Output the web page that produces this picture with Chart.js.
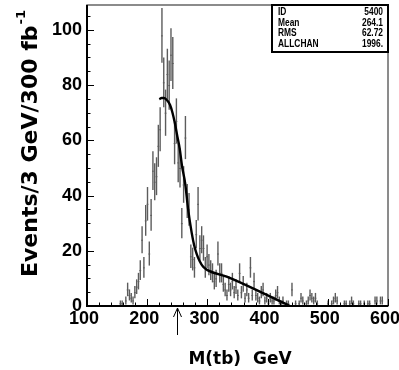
<!DOCTYPE html>
<html><head><meta charset="utf-8">
<script src="https://cdn.jsdelivr.net/npm/chart.js@4/dist/chart.umd.min.js"></script>
<style>html,body{margin:0;padding:0;background:#fff;}canvas{display:block;}</style>
</head><body>
<canvas id="c" width="399" height="370"></canvas>
<script>
// ---- data ----
const binLow = 100, binWidth = 3;           // histogram: 3 GeV bins starting at 100 GeV
const counts = [
  0,0,0,0,0,0,0,0,0,0, 0,0,0,0,0,0,0,0,1,1,      // 100-160
  0,2,6,4,3,2,5,7,9,13, 24,14,31,37,19,33,49,45,47,58, // 160-220
  64,98,81,70,84,80,91,88,59,67, 52,50,30,44,61,38,35,18,17,14, // 220-280
  26,37,21,24,21,14,18,15,13,12, 9,10,19,12,12,8,6,4,8,6,      // 280-340
  9,5,7,4,12,5,8,3,6,3, 14,4,9,4,3,2,5,6,2,3,                  // 340-400
  1,3,2,2,4,5,2,1,2,0, 1,1,0,6,0,1,0,1,3,2,                    // 400-460
  0,1,2,4,3,2,3,1,0,0, 0,0,0,1,0,1,2,3,2,0,                    // 460-520
  0,0,1,1,0,1,2,1,0,0, 1,1,0,1,0,1,1,0,0,2,                    // 520-580
  2,0,2,2,0,0,0                                                // 580-601
];
const fitMass  = [220, 224, 228, 233, 238, 242, 246, 250, 254, 258, 263, 268, 274, 278, 282, 287, 293, 300, 332, 387, 437];
const fitValue = [74.9,75.3,75.3,74.5,72.8,70.0,66.2,61.5,57.0,50.5,44.5,35.0,26.4,22.0,19.0,16.3,14.2,13.0,10.6,5.2,0];
const xTicks = [100, 200, 300, 400, 500, 600];
const yTicks = [0, 20, 40, 60, 80, 100];
const statLabels = ['ID', 'Mean', 'RMS', 'ALLCHAN'];
const statValues = ['5400', '264.1', '62.72', '1996.'];
const arrowMass = 250;
const xTitle = 'M(tb)  GeV';
const yTitle = 'Events/3 GeV/300 fb';
const yTitleSup = '-1';

// ---- chart ----
const histPoints = counts.map((c, i) => ({x: binLow + binWidth * (i + 0.5), y: c}));
const fitPoints = fitMass.map((m, i) => ({x: m, y: fitValue[i]}));

function condensedText(ctx, txt, x, y, align, sx) {
  ctx.save();
  ctx.translate(x, y);
  ctx.scale(sx, 1);
  ctx.textAlign = align;
  ctx.fillText(txt, 0, 0);
  ctx.restore();
}

const rootPlugin = {
  id: 'rootStyle',
  beforeDatasetsDraw(chart) {
    const ctx = chart.ctx, xs = chart.scales.x, ys = chart.scales.y;
    ctx.save();
    ctx.strokeStyle = '#5c5c5c';
    histPoints.forEach(p => {
      if (p.y <= 0) return;
      const e = Math.sqrt(p.y);
      const px = xs.getPixelForValue(p.x);
      const yt = ys.getPixelForValue(Math.min(p.y + e, ys.max));
      const yb = ys.getPixelForValue(Math.max(p.y - e, 0));
      const yc = ys.getPixelForValue(p.y);
      ctx.lineWidth = 1.4;
      ctx.beginPath();
      ctx.moveTo(px, yt); ctx.lineTo(px, yb);
      ctx.stroke();
      ctx.lineWidth = 1;
      ctx.beginPath();
      ctx.moveTo(xs.getPixelForValue(p.x - binWidth / 2), yc + 0.5);
      ctx.lineTo(xs.getPixelForValue(p.x + binWidth / 2), yc + 0.5);
      ctx.stroke();
    });
    ctx.restore();
  },
  afterDraw(chart) {
    const ctx = chart.ctx, a = chart.chartArea, xs = chart.scales.x, ys = chart.scales.y;
    ctx.save();
    // frame
    ctx.strokeStyle = '#666';
    ctx.lineWidth = 1.5;
    ctx.strokeRect(a.left, a.top, a.right - a.left, a.bottom - a.top);
    ctx.strokeStyle = '#000';
    ctx.lineWidth = 2;
    ctx.beginPath();
    ctx.moveTo(a.left, a.top); ctx.lineTo(a.left, a.bottom); ctx.lineTo(a.right, a.bottom);
    ctx.stroke();
    // ticks (inward)
    ctx.lineWidth = 1;
    ctx.beginPath();
    for (let v = 0; v <= ys.max; v += 5) {
      const y = Math.round(ys.getPixelForValue(v)) + 0.5;
      const len = v % 20 === 0 ? 7 : 3.5;
      ctx.moveTo(a.left, y); ctx.lineTo(a.left + len, y);
    }
    for (let v = xs.min; v <= xs.max; v += 20) {
      const x = Math.round(xs.getPixelForValue(v)) + 0.5;
      const len = v % 100 === 0 ? 7 : 3.5;
      ctx.moveTo(x, a.bottom); ctx.lineTo(x, a.bottom - len);
    }
    ctx.stroke();
    // arrow
    const ax = Math.round(xs.getPixelForValue(arrowMass)) + 0.5;
    ctx.beginPath();
    ctx.moveTo(ax, a.bottom + 29); ctx.lineTo(ax, a.bottom + 2);
    ctx.moveTo(ax - 4, a.bottom + 11); ctx.lineTo(ax, a.bottom + 2); ctx.lineTo(ax + 4, a.bottom + 11);
    ctx.stroke();
    // stats box
    const bx0 = 272, bx1 = a.right, by0 = a.top, by1 = 52;
    ctx.fillStyle = '#fff';
    ctx.fillRect(bx0, by0, bx1 - bx0, by1 - by0);
    ctx.strokeStyle = '#000';
    ctx.lineWidth = 2;
    ctx.strokeRect(bx0, by0, bx1 - bx0, by1 - by0);
    ctx.fillStyle = '#000';
    ctx.font = 'bold 10.5px "Liberation Sans", sans-serif';
    ctx.textBaseline = 'middle';
    statLabels.forEach((l, i) => {
      const y = by0 + 7 + i * 10.7;
      condensedText(ctx, l, bx0 + 6, y, 'left', 0.8);
      condensedText(ctx, statValues[i], bx1 - 5, y, 'right', 0.8);
    });
    // x title
    ctx.font = 'bold 17px "DejaVu Sans", sans-serif';
    ctx.textAlign = 'center';
    ctx.textBaseline = 'alphabetic';
    ctx.fillText(xTitle, 240, 364);
    // y title
    ctx.save();
    ctx.translate(37, 277);
    ctx.rotate(-Math.PI / 2);
    ctx.textAlign = 'left';
    ctx.font = 'bold 22px "DejaVu Sans", sans-serif';
    ctx.fillText(yTitle, 0, 0);
    const w = ctx.measureText(yTitle).width;
    ctx.font = 'bold 13px "DejaVu Sans", sans-serif';
    ctx.fillText(yTitleSup, w + 1, -12);
    ctx.restore();
    ctx.restore();
  }
};

new Chart(document.getElementById('c'), {
  type: 'scatter',
  data: {
    datasets: [
      {label: 'hist', data: histPoints, showLine: false, pointRadius: 0},
      {label: 'fit', data: fitPoints, showLine: true, borderColor: '#000', borderWidth: 2.4,
       pointRadius: 0, tension: 0.4, cubicInterpolationMode: 'monotone', fill: false}
    ]
  },
  options: {
    responsive: false, animation: false, devicePixelRatio: 1,
    layout: {padding: {top: 5, right: 11, left: 0, bottom: 0}},
    plugins: {legend: {display: false}, tooltip: {enabled: false}},
    scales: {
      x: {
        type: 'linear', min: 100, max: 600,
        afterBuildTicks: s => { s.ticks = xTicks.map(v => ({value: v})); },
        ticks: {autoSkip: false, maxRotation: 0, color: '#000', padding: 2, labelOffset: -3,
                font: {family: 'Liberation Sans', size: 18, weight: 'bold'}},
        grid: {display: false, drawTicks: false}, border: {display: false},
        afterFit: s => { s.height = 64; s.paddingLeft = 0; s.paddingRight = 0; }
      },
      y: {
        type: 'linear', min: 0, max: 109,
        afterBuildTicks: s => { s.ticks = yTicks.map(v => ({value: v})); },
        ticks: {autoSkip: false, color: '#000', padding: 5,
                font: {family: 'Liberation Sans', size: 18, weight: 'bold'}},
        grid: {display: false, drawTicks: false}, border: {display: false},
        afterFit: s => { s.width = 87; s.paddingTop = 0; s.paddingBottom = 0; }
      }
    }
  },
  plugins: [rootPlugin]
});
</script>
</body></html>
